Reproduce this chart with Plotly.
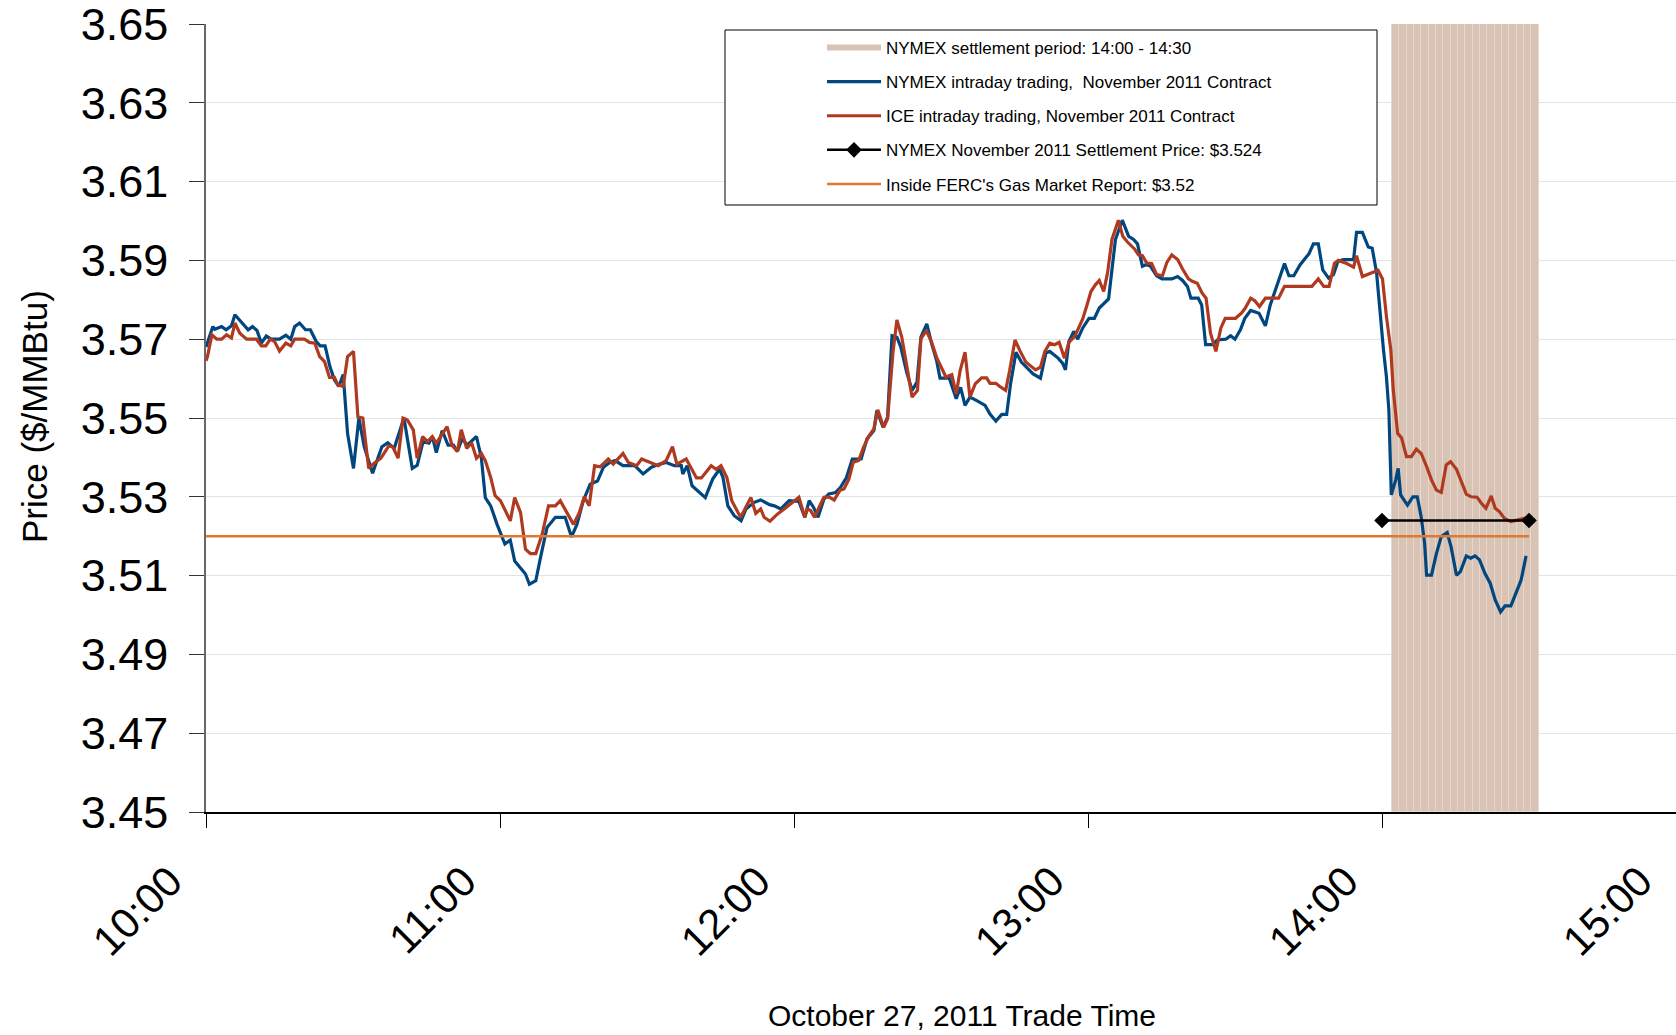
import pandas as pd
import plotly.graph_objects as go

# ---------------- data ----------------
# minutes after 10:00 on October 27, 2011
nymex_minutes = [
    0.0, 1.4, 1.8, 3.2, 4.1, 5.2, 5.9, 7.3, 8.6, 9.5, 10.4, 11.3, 12.3, 13.3, 15.0, 16.3, 17.3, 18.1, 19.1, 20.3,
    21.3, 22.5, 23.3, 24.3, 25.3, 26.2, 27.1, 28.0, 28.9, 30.1, 31.2, 32.3, 34.0, 34.7, 35.9, 37.1, 38.4, 40.4,
    42.1, 43.1, 44.3, 45.5, 46.2, 47.0, 48.2, 49.4, 50.5, 51.3, 52.3, 53.3, 54.3, 55.2, 56.2, 57.0, 58.1, 59.4,
    61.0, 62.1, 63.0, 64.2, 65.2, 66.0, 67.3, 68.4, 69.6, 71.3, 73.3, 74.6, 75.7, 77.0, 78.4, 79.9, 81.1, 82.4,
    83.5, 85.1, 87.5, 89.2, 90.9, 92.6, 93.9, 95.6, 97.0, 97.3, 98.2, 99.2, 100.7, 101.9, 103.4, 104.8, 105.5,
    106.5, 107.8, 109.2, 110.2, 111.9, 113.2, 115.0, 116.0, 117.3, 119.0, 120.0, 121.0, 122.2, 123.1, 124.0,
    124.9, 126.1, 127.1, 128.5, 129.5, 130.7, 131.9, 133.7, 134.9, 136.3, 136.9, 138.2, 139.1, 140.0, 141.0,
    141.8, 143.0, 144.1, 145.1, 145.9, 147.1, 148.1, 149.1, 149.8, 151.7, 153.1, 154.0, 154.9, 155.9, 157.3,
    159.0, 160.0, 161.2, 162.4, 163.4, 164.2, 165.3, 166.4, 168.8, 170.3, 171.4, 172.2, 173.9, 174.8, 175.4,
    176.1, 177.1, 177.9, 178.9, 180.2, 181.3, 182.3, 183.4, 184.2, 185.6, 187.0, 188.3, 189.3, 190.1, 191.1,
    191.8, 192.7, 194.0, 195.1, 197.1, 198.3, 199.3, 200.3, 201.0, 202.5, 203.2, 204.0, 205.4, 206.4, 208.1,
    209.1, 210.0, 211.1, 212.0, 213.2, 214.9, 216.2, 217.2, 218.6, 220.1, 221.0, 222.0, 223.3, 224.3, 225.1,
    226.0, 227.0, 227.9, 229.1, 230.1, 231.0, 232.1, 234.2, 234.8, 236.0, 237.2, 238.0, 238.9, 239.6, 240.3,
    240.9, 241.4, 241.9, 242.8, 243.3, 243.8, 245.2, 246.3, 247.2, 248.0, 248.7, 249.1, 250.1, 251.1, 252.1,
    253.3, 254.1, 255.2, 256.0, 257.2, 258.1, 259.0, 259.9, 261.0, 262.1, 263.1, 264.2, 265.1, 266.3, 267.3,
    268.4, 269.4,
]
nymex_price = [
    3.5680, 3.5732, 3.5725, 3.5732, 3.5724, 3.5734, 3.5762, 3.5742, 3.5724, 3.5732, 3.5722, 3.5690, 3.5708,
    3.5700, 3.5700, 3.5710, 3.5700, 3.5732, 3.5741, 3.5724, 3.5724, 3.5694, 3.5683, 3.5683, 3.5630, 3.5597,
    3.5580, 3.5610, 3.5460, 3.5372, 3.5500, 3.5427, 3.5360, 3.5385, 3.5427, 3.5437, 3.5423, 3.5500, 3.5372,
    3.5380, 3.5440, 3.5436, 3.5453, 3.5412, 3.5468, 3.5431, 3.5431, 3.5415, 3.5448, 3.5431, 3.5444, 3.5453,
    3.5398, 3.5298, 3.5277, 3.5230, 3.5180, 3.5190, 3.5137, 3.5120, 3.5104, 3.5078, 3.5087, 3.5154, 3.5222,
    3.5248, 3.5248, 3.5198, 3.5230, 3.5290, 3.5332, 3.5340, 3.5375, 3.5387, 3.5392, 3.5379, 3.5379, 3.5358,
    3.5375, 3.5383, 3.5387, 3.5379, 3.5379, 3.5358, 3.5379, 3.5328, 3.5311, 3.5298, 3.5345, 3.5370, 3.5349,
    3.5277, 3.5252, 3.5239, 3.5269, 3.5286, 3.5292, 3.5280, 3.5277, 3.5269, 3.5290, 3.5290, 3.5288, 3.5248,
    3.5290, 3.5273, 3.5248, 3.5294, 3.5307, 3.5311, 3.5324, 3.5349, 3.5396, 3.5396, 3.5447, 3.5468, 3.5519,
    3.5476, 3.5502, 3.5709, 3.5705, 3.5680, 3.5616, 3.5570, 3.5591, 3.5705, 3.5739, 3.5688, 3.5646, 3.5601,
    3.5601, 3.5549, 3.5578, 3.5532, 3.5553, 3.5544, 3.5532, 3.5510, 3.5492, 3.5509, 3.5509, 3.5587, 3.5667,
    3.5642, 3.5612, 3.5601, 3.5665, 3.5669, 3.5652, 3.5639, 3.5622, 3.5694, 3.5720, 3.5700, 3.5728, 3.5753,
    3.5753, 3.5779, 3.5792, 3.5802, 3.5953, 3.6002, 3.5961, 3.5953, 3.5942, 3.5885, 3.5889, 3.5886, 3.5861,
    3.5853, 3.5853, 3.5859, 3.5849, 3.5834, 3.5804, 3.5804, 3.5787, 3.5686, 3.5686, 3.5698, 3.5700, 3.5709,
    3.5700, 3.5724, 3.5753, 3.5773, 3.5766, 3.5734, 3.5787, 3.5838, 3.5892, 3.5861, 3.5861, 3.5889, 3.5906,
    3.5917, 3.5942, 3.5942, 3.5876, 3.5855, 3.5864, 3.5897, 3.5902, 3.5902, 3.5971, 3.5971, 3.5934, 3.5931,
    3.5868, 3.5758, 3.5673, 3.5605, 3.5521, 3.5305, 3.5343, 3.5372, 3.5305, 3.5279, 3.5300, 3.5300, 3.5249,
    3.5182, 3.5101, 3.5101, 3.5156, 3.5199, 3.5209, 3.5173, 3.5101, 3.5110, 3.5150, 3.5144, 3.5150, 3.5140,
    3.5106, 3.5080, 3.5038, 3.5008, 3.5023, 3.5023, 3.5055, 3.5089, 3.5150,
]

ice_minutes = [
    0.0, 0.3, 1.2, 2.2, 3.2, 4.2, 5.2, 5.9, 6.9, 8.3, 10.3, 11.3, 12.2, 13.1, 14.0, 15.0, 16.3, 17.3, 18.1, 20.1,
    21.1, 22.2, 23.2, 24.2, 25.2, 26.2, 26.9, 28.0, 28.9, 30.1, 31.0, 32.0, 33.2, 34.3, 35.7, 37.3, 38.1, 39.2,
    40.2, 41.1, 42.3, 43.1, 44.2, 45.2, 46.2, 47.0, 48.1, 49.2, 50.2, 51.3, 52.1, 53.2, 54.2, 55.2, 56.2, 57.0,
    58.1, 59.0, 60.1, 61.1, 62.1, 63.0, 64.2, 65.2, 66.2, 67.3, 68.6, 69.9, 71.3, 72.3, 73.6, 75.0, 76.2, 77.2,
    78.2, 79.3, 80.4, 82.1, 83.1, 85.1, 86.2, 87.9, 88.9, 92.3, 93.9, 95.2, 96.1, 98.0, 100.1, 101.1, 103.1,
    104.1, 105.1, 106.3, 107.3, 109.1, 111.2, 112.2, 113.2, 113.9, 115.1, 116.6, 118.0, 119.3, 121.0, 122.2,
    122.7, 123.4, 124.2, 125.1, 126.1, 127.1, 128.2, 129.4, 130.2, 131.2, 132.1, 133.2, 134.2, 135.3, 136.3,
    137.1, 138.3, 139.1, 140.2, 141.0, 142.0, 143.0, 144.1, 145.2, 145.9, 147.0, 148.1, 149.1, 150.2, 151.0,
    152.2, 153.1, 153.9, 154.9, 155.9, 157.0, 158.3, 159.3, 160.0, 161.2, 162.0, 163.2, 164.0, 165.1, 166.1,
    167.3, 169.3, 170.3, 171.2, 172.2, 173.2, 174.1, 175.2, 176.1, 177.3, 178.1, 178.9, 179.8, 180.6, 181.5,
    182.3, 183.2, 184.0, 184.9, 186.2, 187.1, 188.1, 189.5, 190.3, 191.1, 192.0, 193.0, 194.0, 195.2, 196.1,
    197.1, 198.3, 199.3, 200.5, 201.3, 202.3, 203.3, 204.1, 205.0, 206.1, 207.1, 208.0, 210.1, 211.3, 212.1,
    213.2, 214.0, 215.0, 216.2, 218.9, 220.1, 225.7, 227.0, 228.1, 229.2, 230.3, 231.1, 232.8, 234.2, 234.8,
    236.0, 237.9, 239.2, 240.1, 240.9, 241.8, 242.3, 243.2, 244.0, 245.0, 246.0, 247.0, 248.0, 249.1, 250.1,
    251.1, 252.1, 253.1, 254.0, 255.2, 256.2, 257.2, 258.2, 259.4, 260.2, 261.2, 262.3, 263.1, 264.0, 265.0,
    266.3, 267.7, 269.0, 270.0,
]
ice_price = [
    3.5645, 3.5656, 3.5711, 3.5700, 3.5700, 3.5711, 3.5703, 3.5741, 3.5715, 3.5700, 3.5700, 3.5683, 3.5683,
    3.5700, 3.5694, 3.5670, 3.5690, 3.5683, 3.5700, 3.5700, 3.5692, 3.5690, 3.5656, 3.5643, 3.5603, 3.5603,
    3.5584, 3.5580, 3.5656, 3.5669, 3.5503, 3.5500, 3.5372, 3.5385, 3.5398, 3.5429, 3.5427, 3.5398, 3.5500,
    3.5495, 3.5470, 3.5398, 3.5453, 3.5440, 3.5453, 3.5436, 3.5457, 3.5478, 3.5431, 3.5415, 3.5470, 3.5423,
    3.5437, 3.5398, 3.5410, 3.5392, 3.5349, 3.5303, 3.5290, 3.5265, 3.5239, 3.5298, 3.5260, 3.5167, 3.5156,
    3.5156, 3.5205, 3.5277, 3.5277, 3.5290, 3.5260, 3.5230, 3.5260, 3.5300, 3.5277, 3.5379, 3.5376, 3.5396,
    3.5383, 3.5410, 3.5387, 3.5379, 3.5396, 3.5379, 3.5392, 3.5427, 3.5383, 3.5396, 3.5348, 3.5348, 3.5379,
    3.5370, 3.5379, 3.5349, 3.5290, 3.5248, 3.5298, 3.5258, 3.5269, 3.5248, 3.5238, 3.5256, 3.5269, 3.5282,
    3.5299, 3.5248, 3.5269, 3.5265, 3.5248, 3.5273, 3.5299, 3.5300, 3.5292, 3.5317, 3.5320, 3.5345, 3.5388,
    3.5392, 3.5426, 3.5455, 3.5472, 3.5521, 3.5476, 3.5498, 3.5667, 3.5749, 3.5705, 3.5633, 3.5553, 3.5570,
    3.5701, 3.5722, 3.5692, 3.5654, 3.5625, 3.5604, 3.5610, 3.5561, 3.5620, 3.5667, 3.5553, 3.5587, 3.5602,
    3.5602, 3.5588, 3.5588, 3.5580, 3.5570, 3.5620, 3.5698, 3.5671, 3.5642, 3.5622, 3.5629, 3.5669, 3.5690,
    3.5686, 3.5692, 3.5652, 3.5692, 3.5707, 3.5728, 3.5751, 3.5787, 3.5821, 3.5838, 3.5849, 3.5821, 3.5869,
    3.5954, 3.6002, 3.5961, 3.5946, 3.5929, 3.5914, 3.5912, 3.5893, 3.5892, 3.5864, 3.5861, 3.5895, 3.5914,
    3.5902, 3.5878, 3.5853, 3.5847, 3.5842, 3.5817, 3.5804, 3.5715, 3.5669, 3.5728, 3.5753, 3.5753, 3.5766,
    3.5779, 3.5804, 3.5798, 3.5783, 3.5804, 3.5804, 3.5834, 3.5834, 3.5853, 3.5834, 3.5834, 3.5893, 3.5900,
    3.5892, 3.5883, 3.5912, 3.5859, 3.5868, 3.5875, 3.5853, 3.5758, 3.5673, 3.5571, 3.5461, 3.5449, 3.5402,
    3.5402, 3.5421, 3.5410, 3.5377, 3.5343, 3.5317, 3.5311, 3.5381, 3.5389, 3.5370, 3.5338, 3.5307, 3.5300,
    3.5299, 3.5285, 3.5271, 3.5302, 3.5271, 3.5262, 3.5245, 3.5237, 3.5241, 3.5245, 3.5245,
]

# NYMEX settlement period band (14:00 - 14:30)
band_times = ["14:02:45", "14:04:15", "14:05:45", "14:07:15", "14:08:45", "14:10:15", "14:11:45",
              "14:13:15", "14:14:45", "14:16:15", "14:17:45", "14:19:15", "14:20:45", "14:22:15",
              "14:23:45", "14:25:15", "14:26:45", "14:28:15", "14:29:45", "14:31:15"]
band_low = 3.45
band_high = 3.65

settle_times = ["14:00", "14:30"]
settle_price = [3.524, 3.524]

ferc_times = ["10:00", "14:30"]
ferc_price = [3.52, 3.52]

y_ticks = [3.45, 3.47, 3.49, 3.51, 3.53, 3.55, 3.57, 3.59, 3.61, 3.63, 3.65]
x_ticks = ["10:00", "11:00", "12:00", "13:00", "14:00", "15:00"]

DAY = "2011-10-27 "
BASE = pd.Timestamp(DAY + "10:00")


def from_minutes(ms):
    return [BASE + pd.Timedelta(minutes=m) for m in ms]


def from_clock(ts):
    return [pd.Timestamp(DAY + t) for t in ts]


FONT = "Liberation Sans, Arial, sans-serif"
BLUE = "#00467F"
RED = "#B03A20"
ORANGE = "#DE7A30"
TAN = "#D9C3B5"

fig = go.Figure()

# settlement band (bars)
fig.add_trace(go.Bar(
    x=from_clock(band_times),
    y=[band_high - band_low] * len(band_times),
    base=[band_low] * len(band_times),
    width=[90000] * len(band_times),
    marker=dict(color=TAN, line=dict(width=1, color="#E6D8CE")),
    showlegend=False, cliponaxis=False, hoverinfo="skip",
))
# legend entry for the band
fig.add_trace(go.Scatter(
    x=[None], y=[None], mode="lines", line=dict(color=TAN, width=6),
    name="NYMEX settlement period: 14:00 - 14:30", legendgroup="g1", legendrank=1,
))
fig.add_trace(go.Scatter(
    x=from_minutes(nymex_minutes), y=nymex_price, mode="lines",
    line=dict(color=BLUE, width=3.2),
    name="NYMEX intraday trading,  November 2011 Contract", legendgroup="g2", legendrank=2,
))
fig.add_trace(go.Scatter(
    x=from_minutes(ice_minutes), y=ice_price, mode="lines",
    line=dict(color=RED, width=3.2),
    name="ICE intraday trading, November 2011 Contract", legendgroup="g3", legendrank=3,
))
fig.add_trace(go.Scatter(
    x=from_clock(settle_times), y=settle_price, mode="lines+markers",
    line=dict(color="black", width=2.5),
    marker=dict(symbol="diamond", size=12, color="black"),
    name="NYMEX November 2011 Settlement Price: $3.524", legendgroup="g4", legendrank=4,
    cliponaxis=False,
))
fig.add_trace(go.Scatter(
    x=from_clock(ferc_times), y=ferc_price, mode="lines",
    line=dict(color=ORANGE, width=2.5),
    name="Inside FERC's Gas Market Report: $3.52", legendgroup="g5", legendrank=5,
))

W, H = 1676, 1035
L, R, T, B = 206, 0, 24, 223
pw, ph = W - L - R, H - T - B


def px(xp):
    return (xp - L) / pw


def py(yp):
    return (H - B - yp) / ph


fig.update_layout(
    width=W, height=H,
    margin=dict(l=L, r=R, t=T, b=B, pad=0),
    paper_bgcolor="white", plot_bgcolor="white",
    font=dict(family=FONT, color="black"),
    bargap=0,
    showlegend=True,
    legend=dict(
        x=px(822), y=py(30), xanchor="left", yanchor="top",
        bgcolor="rgba(0,0,0,0)", borderwidth=0,
        font=dict(family=FONT, size=17, color="black"),
        itemwidth=54, tracegroupgap=9, traceorder="grouped",
    ),
    xaxis=dict(
        type="date",
        range=[BASE, BASE + pd.Timedelta(hours=5)],
        tickvals=from_clock(x_ticks), ticktext=x_ticks,
        tickangle=-45, tickfont=dict(family=FONT, size=42, color="black"),
        ticklabelshift=-36, ticklabelstandoff=12, ticklabeloverflow="allow",
        ticks="outside", ticklen=14, tickcolor="black", tickwidth=1,
        showline=True, linecolor="black", linewidth=1.5,
        showgrid=False, zeroline=False,
    ),
    yaxis=dict(
        range=[3.45, 3.65],
        tickvals=y_ticks, ticktext=[f"{v:.2f}" for v in y_ticks],
        tickfont=dict(family=FONT, size=45, color="black"),
        ticks="outside", ticklen=15, tickcolor="#333333", tickwidth=1,
        ticklabelstandoff=12, ticklabeloverflow="allow",
        showline=True, linecolor="#666666", linewidth=1.5,
        showgrid=True, gridcolor="#DCE6E6", gridwidth=1,
        zeroline=False,
    ),
    shapes=[dict(
        type="rect", xref="paper", yref="paper",
        x0=px(725), x1=px(1377), y0=py(205), y1=py(30),
        line=dict(color="black", width=1), fillcolor="white", layer="above",
    )],
    annotations=[
        dict(text="Price ($/MMBtu)", xref="paper", yref="paper", x=px(34), y=py(417),
             textangle=-90, showarrow=False, xanchor="center", yanchor="middle",
             font=dict(family=FONT, size=35, color="black")),
        dict(text="October 27, 2011 Trade Time", xref="paper", yref="paper", x=px(962), y=py(1015),
             showarrow=False, xanchor="center", yanchor="middle",
             font=dict(family=FONT, size=30, color="black")),
    ],
)

# remove the default 8px page margin so the figure fills the window exactly
fig.write_html(
    "out.html",
    config={"displayModeBar": False},
    post_script="document.body.style.margin='0';document.body.style.overflow='hidden';",
)
